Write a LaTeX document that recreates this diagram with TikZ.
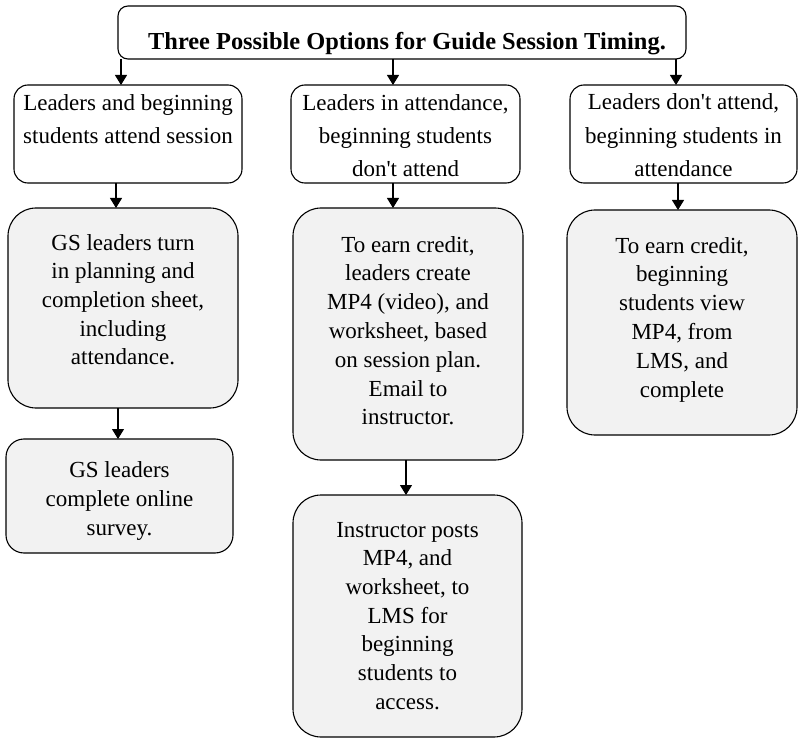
\documentclass[tikz,border=0pt]{standalone}
\usepackage{fontspec}
\setmainfont{Liberation Serif}
\usetikzlibrary{arrows.meta}
\definecolor{boxgray}{HTML}{F2F2F2}
\newcommand{\bxt}[5]{\begin{minipage}[c][#2][t]{#1}\fontsize{23}{#4}\selectfont\centering\vspace*{\dimexpr#3-0.7\baselineskip\relax}\strut #5\end{minipage}}
\tikzset{
  boxbase/.style={draw, line width=1.1pt, inner sep=0pt, outer sep=0pt},
  plainbox/.style={boxbase, fill=white, rounded corners=14pt},
  titlebox/.style={boxbase, fill=white, rounded corners=10pt},
  graybox/.style={boxbase, fill=boxgray, rounded corners=28pt},
  smallgray/.style={boxbase, fill=boxgray, rounded corners=18pt},
  arr/.style={line width=1.1pt, -{Triangle[width=12pt,length=10pt]}}
}
\begin{document}
\begin{tikzpicture}[x=1pt,y=-1pt]
\useasboundingbox (0,0) rectangle (798,738);
% title
\node[titlebox] (top) at (402,32.5) {\begin{minipage}[c][53pt][t]{568pt}\fontsize{24.4}{28}\selectfont\bfseries\centering\vspace*{\dimexpr44pt-0.7\baselineskip\relax}\strut\hspace*{10pt}Three Possible Options for Guide Session Timing.\end{minipage}};
% first row
\node[plainbox] (a1) at (128,134) {\bxt{228pt}{98pt}{26pt}{33pt}{Leaders and beginning\\students attend session}};
\node[plainbox] (b1) at (405.5,134) {\bxt{229pt}{98pt}{26pt}{33pt}{Leaders in attendance,\\beginning students\\don\textquotesingle t attend}};
\node[plainbox] (c1) at (683.5,134) {\bxt{227pt}{98pt}{25pt}{33.5pt}{Leaders don\textquotesingle t attend,\\beginning students in\\attendance}};
% second row
\node[graybox] (a2) at (123,308) {\bxt{230pt}{200pt}{42pt}{28.7pt}{GS leaders turn\\in planning and\\completion sheet,\\including\\attendance.}};
\node[graybox] (b2) at (408,334) {\bxt{230pt}{252pt}{44pt}{28.8pt}{To earn credit,\\leaders create\\MP4 (video), and\\worksheet, based\\on session plan.\\Email to\\instructor.}};
\node[graybox] (c2) at (682,322.5) {\bxt{230pt}{225pt}{43pt}{28.8pt}{To earn credit,\\beginning\\students view\\MP4, from\\LMS, and\\complete}};
% third row
\node[smallgray] (a3) at (119.5,496) {\bxt{227pt}{114pt}{38pt}{29pt}{GS leaders\\complete online\\survey.}};
\node[graybox] (b3) at (407.5,616) {\bxt{229pt}{242pt}{42pt}{28.7pt}{Instructor posts\\MP4, and\\worksheet, to\\LMS for\\beginning\\students to\\access.}};
% arrow columns
\coordinate (xa1) at (121,0);
\coordinate (xb1) at (393,0);
\coordinate (xc1) at (676,0);
\coordinate (xa2) at (116,0);
\coordinate (xa3) at (118,0);
\coordinate (xb3) at (406,0);
\coordinate (xc2) at (678,0);
\draw[arr] (top.south -| xa1) -- (a1.north -| xa1);
\draw[arr] (top.south -| xb1) -- (b1.north -| xb1);
\draw[arr] (top.south -| xc1) -- (c1.north -| xc1);
\draw[arr] (a1.south -| xa2) -- (a2.north -| xa2);
\draw[arr] (b1.south -| xb1) -- (b2.north -| xb1);
\draw[arr] (c1.south -| xc2) -- (c2.north -| xc2);
\draw[arr] (a2.south -| xa3) -- (a3.north -| xa3);
\draw[arr] (b2.south -| xb3) -- (b3.north -| xb3);
\end{tikzpicture}
\end{document}
